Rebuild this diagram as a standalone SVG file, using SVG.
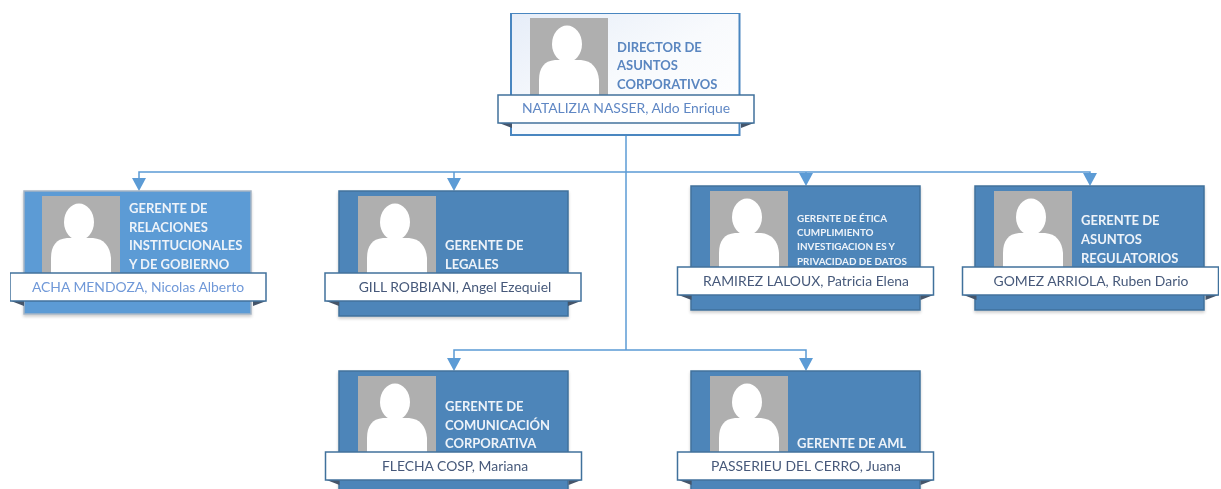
<svg xmlns="http://www.w3.org/2000/svg" width="1221" height="489" viewBox="0 0 1221 489">
<style>
.card{fill:#4d85b9;stroke:#41719c;stroke-width:1.5}
.cardl{fill:#5b9bd5;stroke:#a5b4c4;stroke-width:1.5}
.banner{fill:#fff;stroke:#41719c;stroke-width:1.5}
.fold{fill:#44546a}
.t{font-family:Lato,"Liberation Sans",sans-serif;font-size:13px;font-weight:700;fill:#eef3f9}
.s{font-size:9.900px}
.d{fill:#5a86c0}
.n{font-family:Lato,"Liberation Sans",sans-serif;font-size:13.900px;fill:#46597a;text-anchor:middle}
.line{fill:none;stroke:#5b9bd5;stroke-width:1.5}
.arrow{fill:#5b9bd5}
</style>
<defs>
<linearGradient id="g" x1="0" y1="0" x2="1" y2="1"><stop offset="0" stop-color="#e6edf8"/><stop offset=".5" stop-color="#f8fafd"/><stop offset="1" stop-color="#fff"/></linearGradient>
<filter id="s" x="-5%" y="-5%" width="110%" height="115%"><feGaussianBlur in="SourceAlpha" stdDeviation="1.500"/><feOffset dy="1.500"/><feComponentTransfer><feFuncA type="linear" slope=".2"/></feComponentTransfer><feMerge><feMergeNode/><feMergeNode in="SourceGraphic"/></feMerge></filter>
<filter id="soft" x="0" y="0" width="100%" height="100%"><feGaussianBlur stdDeviation="0.550"/></filter>
<g id="photo">
<rect width="78" height="78" fill="#afafaf"/>
<path d="M9 78V62C9 50 14 43 25 42H51C62 43 68 50 69 62V78Z" fill="#fff"/>
<ellipse cx="37" cy="26" rx="15" ry="18.500" fill="#fff"/>
</g>
<g id="bannerShape">
<path class="fold" d="M1 28L14 33V28Z"/>
<path class="fold" d="M256 28L243 33V28Z"/>
<rect class="banner" width="256" height="28"/>
</g>
</defs>
<g filter="url(#soft)">
<g id="connectors">
<path class="line" d="M626 135V350"/>
<path class="line" d="M139 182V172H1090V175"/>
<path class="line" d="M454 182V172"/>
<path class="line" d="M806 175V172"/>
<path class="line" d="M454 361V350H806V361"/>
<path class="arrow" d="M132 178H146L139 191Z"/>
<path class="arrow" d="M447 178H461L454 191Z"/>
<path class="arrow" d="M799 173H813L806 186Z"/>
<path class="arrow" d="M1083 173H1097L1090 186Z"/>
<path class="arrow" d="M447 358H461L454 371Z"/>
<path class="arrow" d="M799 358H813L806 371Z"/>
</g>
<g id="node-director">
<rect x="511" y="13" width="228.500" height="122" fill="url(#g)" stroke="#4a86c0" stroke-width="2"/>
<use href="#photo" x="530" y="18"/>
<text class="t d" x="617" y="52">DIRECTOR DE</text>
<text class="t d" x="617" y="70">ASUNTOS</text>
<text class="t d" x="617" y="89">CORPORATIVOS</text>
<use href="#bannerShape" x="498" y="95"/>
<text class="n" style="fill:#5f87c4" x="626" y="113">NATALIZIA NASSER, Aldo Enrique</text>
</g>
<g id="node-acha">
<rect class="cardl" x="24" y="191" width="227" height="123" filter="url(#s)"/>
<use href="#photo" x="42" y="196"/>
<text class="t" x="129" y="213">GERENTE DE</text>
<text class="t" x="129" y="232">RELACIONES</text>
<text class="t" x="129" y="250">INSTITUCIONALES</text>
<text class="t" x="129" y="269">Y DE GOBIERNO</text>
<use href="#bannerShape" x="10" y="273"/>
<text class="n" style="fill:#6f98d8" x="138" y="292">ACHA MENDOZA, Nicolas Alberto</text>
</g>
<g id="node-gill">
<rect class="card" x="339" y="191" width="229" height="125" filter="url(#s)"/>
<use href="#photo" x="358" y="196"/>
<text class="t" x="445" y="250">GERENTE DE</text>
<text class="t" x="445" y="269">LEGALES</text>
<use href="#bannerShape" x="325" y="273"/>
<text class="n" x="455" y="292">GILL ROBBIANI, Angel Ezequiel</text>
</g>
<g id="node-ramirez">
<rect class="card" x="691" y="186" width="229" height="124" filter="url(#s)"/>
<use href="#photo" x="710" y="191"/>
<text class="t s" x="797" y="222">GERENTE DE ÉTICA</text>
<text class="t s" x="797" y="236">CUMPLIMIENTO</text>
<text class="t s" x="797" y="250">INVESTIGACION ES Y</text>
<text class="t s" x="797" y="265">PRIVACIDAD DE DATOS</text>
<use href="#bannerShape" x="677.500" y="267"/>
<text class="n" x="806" y="286">RAMIREZ LALOUX, Patricia Elena</text>
</g>
<g id="node-gomez">
<rect class="card" x="975" y="186" width="229" height="124" filter="url(#s)"/>
<use href="#photo" x="994" y="191"/>
<text class="t" x="1081" y="225">GERENTE DE</text>
<text class="t" x="1081" y="244">ASUNTOS</text>
<text class="t" x="1081" y="263">REGULATORIOS</text>
<use href="#bannerShape" x="962.500" y="267"/>
<text class="n" x="1091" y="286">GOMEZ ARRIOLA, Ruben Dario</text>
</g>
<g id="node-flecha">
<rect class="card" x="339" y="371" width="229" height="125" filter="url(#s)"/>
<use href="#photo" x="358" y="376"/>
<text class="t" x="445" y="411">GERENTE DE</text>
<text class="t" x="445" y="430">COMUNICACIÓN</text>
<text class="t" x="445" y="448">CORPORATIVA</text>
<use href="#bannerShape" x="325.500" y="452"/>
<text class="n" x="455" y="471">FLECHA COSP, Mariana</text>
</g>
<g id="node-passerieu">
<rect class="card" x="691" y="371" width="229" height="125" filter="url(#s)"/>
<use href="#photo" x="710" y="376"/>
<text class="t" x="797" y="448">GERENTE DE AML</text>
<use href="#bannerShape" x="677.500" y="452"/>
<text class="n" x="806" y="471">PASSERIEU DEL CERRO, Juana</text>
</g>
</g>
</svg>
